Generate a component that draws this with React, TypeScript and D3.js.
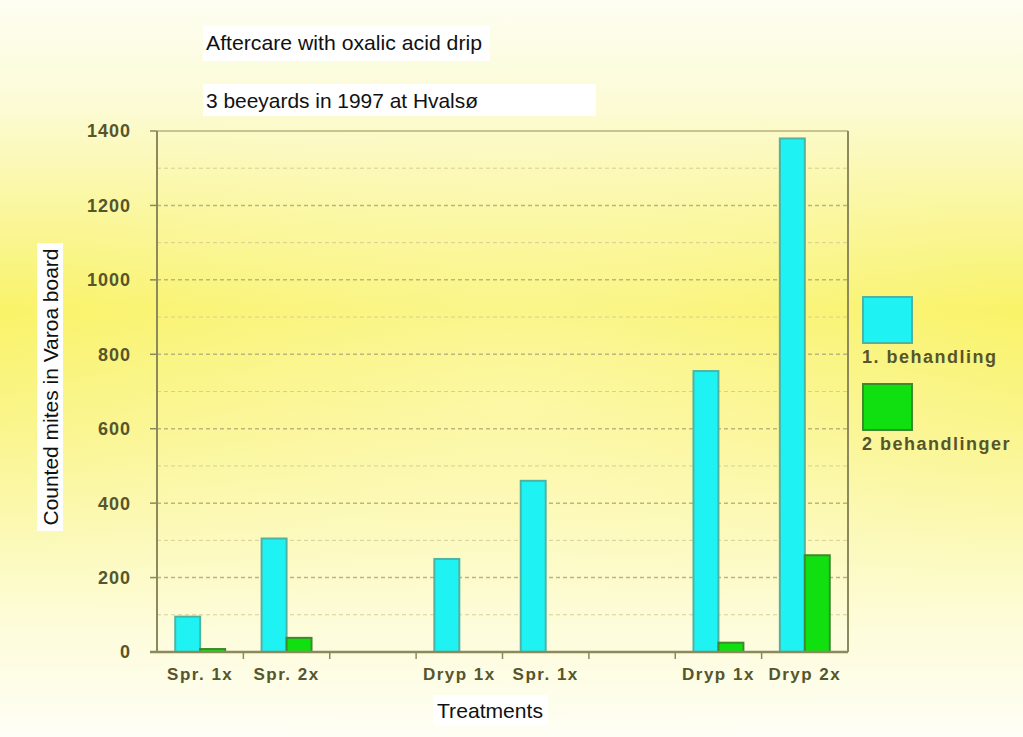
import React from "react";
import * as d3 from "d3";

// Treatment groups along the x axis (empty strings are spacer slots)
const categories = ["Spr. 1x", "Spr. 2x", "", "Dryp 1x", "Spr. 1x", "", "Dryp 1x", "Dryp 2x"];
// Counted mites after the first treatment
const firstTreatment: (number | null)[] = [95, 305, null, 250, 460, null, 755, 1380];
// Counted mites after the second treatment
const secondTreatment: (number | null)[] = [8, 38, null, null, null, null, 25, 260];
const seriesNames = ["1. behandling", "2 behandlinger"];
const yTicks = [0, 200, 400, 600, 800, 1000, 1200, 1400];
const yMinor = [100, 300, 500, 700, 900, 1100, 1300];

const W = 1023;
const H = 737;
const plot = { left: 157, right: 848, top: 131, bottom: 652 };

const fills = ["#1ff2f2", "#10e010"];
const edges = ["#4fb3a3", "#3f8a2c"];
const axisColor = "#8c8a5c";
const labelColor = "#56552c";

export default function App() {
  const x = d3
    .scaleBand<number>()
    .domain(categories.map((_, i) => i))
    .range([plot.left, plot.right])
    .padding(0);
  const inner = d3
    .scaleBand<number>()
    .domain([0, 1])
    .range([0, x.bandwidth()])
    .paddingInner(0)
    .paddingOuter(0.73);
  const y = d3.scaleLinear().domain([0, 1400]).range([plot.bottom, plot.top]);

  const series = [firstTreatment, secondTreatment];
  const boundaries = d3.range(1, categories.length).map((i) => x(i)!);

  return (
    <svg
      width={W}
      height={H}
      style={{ position: "absolute", left: 0, top: 0, display: "block" }}
      fontFamily="'Liberation Sans', Arial, sans-serif"
    >
      <defs>
        <linearGradient id="bg" x1="0" y1="0" x2="0" y2="1">
          <stop offset="0" stopColor="#fefef3" />
          <stop offset="0.14" stopColor="#fcfbd6" />
          <stop offset="0.42" stopColor="#f9f36a" />
          <stop offset="0.58" stopColor="#faf58c" />
          <stop offset="0.84" stopColor="#fdfcd8" />
          <stop offset="1" stopColor="#fefef6" />
        </linearGradient>
        <radialGradient id="haze" cx="0.5" cy="0.55" r="0.5">
          <stop offset="0" stopColor="#fffde0" stopOpacity="0.35" />
          <stop offset="1" stopColor="#fffde0" stopOpacity="0" />
        </radialGradient>
      </defs>
      <rect x={0} y={0} width={W} height={H} fill="url(#bg)" />
      <rect x={0} y={0} width={W} height={H} fill="url(#haze)" />

      {/* title boxes */}
      <rect x={203} y={26} width={287} height={35} fill="#ffffff" />
      <text x={206} y={50} fontSize={21} fill="#111" textLength={276} lengthAdjust="spacingAndGlyphs">
        Aftercare with oxalic acid drip
      </text>
      <rect x={203} y={84} width={393} height={32} fill="#ffffff" />
      <text x={206} y={108} fontSize={21} fill="#111" textLength={272} lengthAdjust="spacingAndGlyphs">
        3 beeyards in 1997 at Hvalsø
      </text>

      {/* minor gridlines */}
      {yMinor.map((v) => (
        <line
          key={"m" + v}
          x1={plot.left}
          x2={plot.right}
          y1={y(v)}
          y2={y(v)}
          stroke="#d6cf96"
          strokeWidth={1}
          strokeDasharray="4,3"
        />
      ))}
      {/* major gridlines */}
      {yTicks.slice(1, -1).map((v) => (
        <line
          key={"g" + v}
          x1={plot.left}
          x2={plot.right}
          y1={y(v)}
          y2={y(v)}
          stroke="#bdb57c"
          strokeWidth={1.5}
          strokeDasharray="4,3"
        />
      ))}

      {/* frame */}
      <line x1={plot.left} x2={plot.right} y1={plot.top} y2={plot.top} stroke="#b8b07a" strokeWidth={1.5} />
      <line x1={plot.right} x2={plot.right} y1={plot.top} y2={plot.bottom} stroke={axisColor} strokeWidth={2} />

      {/* bars */}
      {series.map((vals, s) =>
        vals.map((v, i) =>
          v == null ? null : (
            <rect
              key={`b${s}-${i}`}
              x={x(i)! + inner(s)!}
              y={y(v)}
              width={inner.bandwidth()}
              height={y(0) - y(v)}
              fill={fills[s]}
              stroke={edges[s]}
              strokeWidth={2}
            />
          )
        )
      )}

      {/* y axis */}
      <line x1={plot.left} x2={plot.left} y1={plot.top} y2={plot.bottom} stroke={axisColor} strokeWidth={2} />
      {yTicks.map((v) => (
        <g key={"t" + v}>
          <line x1={plot.left - 7} x2={plot.left} y1={y(v)} y2={y(v)} stroke={axisColor} strokeWidth={1.5} />
          <text
            x={131}
            y={y(v)}
            dy="0.36em"
            textAnchor="end"
            fontSize={18}
            fontWeight="bold"
            fill={labelColor}
            letterSpacing={1}
          >
            {v}
          </text>
        </g>
      ))}

      {/* x axis */}
      <line x1={plot.left - 7} x2={plot.right} y1={plot.bottom} y2={plot.bottom} stroke={axisColor} strokeWidth={2.5} />
      {boundaries.map((bx, i) => (
        <line key={"xt" + i} x1={bx} x2={bx} y1={plot.bottom} y2={plot.bottom + 7} stroke={axisColor} strokeWidth={1.5} />
      ))}
      {categories.map((c, i) =>
        c ? (
          <text
            key={"xl" + i}
            x={x(i)! + x.bandwidth() / 2}
            y={680}
            textAnchor="middle"
            fontSize={17}
            fontWeight="bold"
            fill={labelColor}
            letterSpacing={1.5}
          >
            {c}
          </text>
        ) : null
      )}

      {/* axis titles */}
      <rect x={433} y={695} width={115} height={30} fill="#ffffff" />
      <text x={490} y={718} textAnchor="middle" fontSize={21} fill="#111" textLength={106} lengthAdjust="spacingAndGlyphs">
        Treatments
      </text>
      <rect x={37} y={243} width={26} height={288} fill="#ffffff" />
      <text
        transform={`translate(58,${(243 + 531) / 2}) rotate(-90)`}
        textAnchor="middle"
        fontSize={21}
        fill="#111"
        textLength={277}
        lengthAdjust="spacingAndGlyphs"
      >
        Counted mites in Varoa board
      </text>

      {/* legend */}
      {seriesNames.map((name, s) => (
        <g key={"lg" + s} transform={`translate(862,${296 + s * 87})`}>
          <rect x={1} y={1} width={49} height={46} fill={fills[s]} stroke={edges[s]} strokeWidth={2} />
          <text x={0} y={67} fontSize={18} fontWeight="bold" fill={labelColor} letterSpacing={1.5}>
            {name}
          </text>
        </g>
      ))}
    </svg>
  );
}
